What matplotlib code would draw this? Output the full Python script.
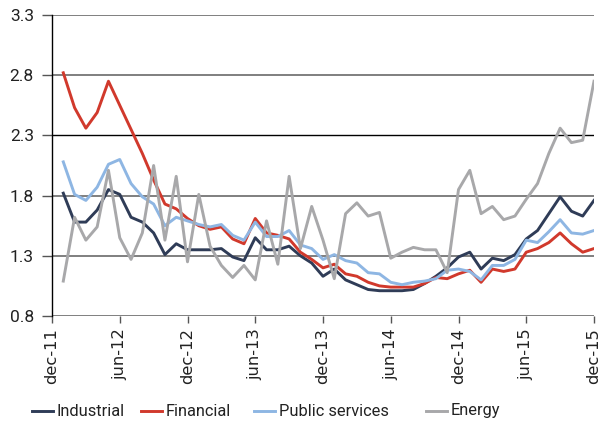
import numpy as np
import matplotlib.pyplot as plt
from matplotlib.lines import Line2D

# monthly values, jan-12 .. dec-15 (month index 1..48, dec-11 = 0)
industrial = [1.82, 1.58, 1.58, 1.68, 1.85, 1.81, 1.62, 1.58, 1.49, 1.31, 1.40, 1.35,
              1.35, 1.35, 1.36, 1.29, 1.26, 1.45, 1.35, 1.35, 1.38, 1.30, 1.24, 1.13,
              1.19, 1.10, 1.06, 1.02, 1.01, 1.01, 1.01, 1.02, 1.07, 1.13, 1.20, 1.29,
              1.33, 1.19, 1.28, 1.26, 1.31, 1.44, 1.51, 1.65, 1.79, 1.67, 1.63, 1.76]
financial = [2.82, 2.53, 2.36, 2.49, 2.75, 2.55, 2.35, 2.15, 1.93, 1.73, 1.69, 1.61,
             1.55, 1.52, 1.54, 1.44, 1.40, 1.61, 1.49, 1.47, 1.44, 1.33, 1.27, 1.20,
             1.23, 1.15, 1.13, 1.08, 1.05, 1.04, 1.04, 1.04, 1.07, 1.12, 1.11, 1.15,
             1.18, 1.08, 1.19, 1.17, 1.19, 1.33, 1.36, 1.41, 1.49, 1.40, 1.33, 1.36]
public_services = [2.08, 1.81, 1.76, 1.87, 2.06, 2.10, 1.90, 1.79, 1.73, 1.55, 1.62, 1.59,
                   1.56, 1.54, 1.56, 1.47, 1.43, 1.58, 1.46, 1.46, 1.51, 1.39, 1.36, 1.27,
                   1.31, 1.26, 1.24, 1.16, 1.15, 1.08, 1.06, 1.08, 1.09, 1.11, 1.18, 1.19,
                   1.17, 1.10, 1.22, 1.22, 1.27, 1.43, 1.41, 1.50, 1.60, 1.49, 1.48, 1.51]
energy = [1.09, 1.62, 1.43, 1.54, 2.01, 1.45, 1.27, 1.49, 2.05, 1.43, 1.96, 1.25,
          1.81, 1.38, 1.22, 1.12, 1.22, 1.10, 1.59, 1.23, 1.96, 1.36, 1.71, 1.43,
          1.11, 1.65, 1.74, 1.63, 1.66, 1.28, 1.33, 1.37, 1.35, 1.35, 1.16, 1.85,
          2.01, 1.65, 1.71, 1.60, 1.63, 1.77, 1.90, 2.15, 2.36, 2.24, 2.26, 2.75]

months = np.arange(1, 49)
tick_pos = np.arange(0, 49, 6)
tick_labels = ["dec-11", "jun-12", "dec-12", "jun-13", "dec-13",
               "jun-14", "dec-14", "jun-15", "dec-15"]
y_ticks = [0.8, 1.3, 1.8, 2.3, 2.8, 3.3]

series = [
    ("Industrial", industrial, "#2f3c57"),
    ("Financial", financial, "#d1392c"),
    ("Public services", public_services, "#8eb6e3"),
    ("Energy", energy, "#a8a8aa"),
]

W, H = 609, 433
fig = plt.figure(figsize=(W / 100, H / 100), dpi=100)
ax = fig.add_axes([52 / W, 1 - 316 / H, (594 - 52) / W, (316 - 15) / H])

for y in y_ticks:
    if y == 2.3:
        ax.axhline(y, color="black", lw=1.0, zorder=1)
    else:
        ax.axhline(y, color="#7f7f7f", lw=1.4, zorder=1)

for name, vals, col in series:
    ax.plot(months, vals, color=col, lw=2.1, label=name, zorder=3)

ax.set_xlim(0, 48)
ax.set_ylim(0.8, 3.3)
ax.set_yticks(y_ticks)
ax.set_yticklabels([f"{v:.1f}" for v in y_ticks], family="Roboto", fontsize=12.5,
                   color="#222222")
ax.set_xticks(tick_pos)
ax.set_xticklabels(tick_labels, rotation=90, family="DejaVu Sans", fontsize=11.8,
                   color="#222222")
ax.tick_params(axis="y", length=7, width=1, color="#555555", pad=6)
ax.tick_params(axis="x", length=5, width=1, color="#555555", pad=4)

for side in ("top", "right", "bottom"):
    ax.spines[side].set_visible(False)
ax.spines["left"].set_color("black")
ax.spines["left"].set_linewidth(1.0)

# legend entries placed like the original (uneven spacing)
leg_x = [32, 141, 254, 426]
leg_y = 1 - 411 / H
for (name, _, col), x0 in zip(series, leg_x):
    fig.add_artist(Line2D([x0 / W, (x0 + 21) / W], [leg_y, leg_y], color=col, lw=2.1))
    fig.text((x0 + 25) / W, leg_y, name, family="Roboto", fontsize=11.8,
             color="#222222", va="center", ha="left")

fig.savefig("out.png", dpi=100)
